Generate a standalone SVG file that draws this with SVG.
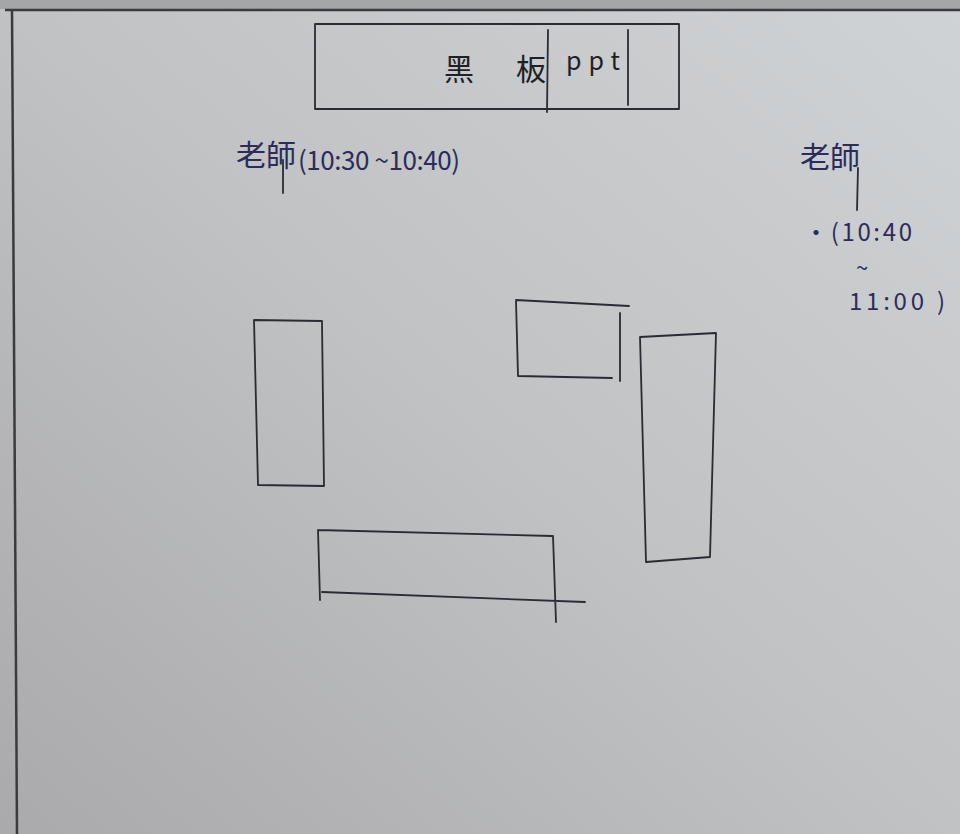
<svg xmlns="http://www.w3.org/2000/svg" width="960" height="834" viewBox="0 0 960 834">
<defs>
<linearGradient id="paper" x1="1" y1="0" x2="0" y2="1">
<stop offset="0" stop-color="#d0d3d5"/>
<stop offset="0.5" stop-color="#c0c2c4"/>
<stop offset="1" stop-color="#aaa9ab"/>
</linearGradient>
<style>
.ln{fill:none;stroke:#2b2b33;stroke-width:1.8;stroke-linecap:round;stroke-linejoin:round}
.frame{fill:none;stroke:#3a3b3f;stroke-width:2.5}
.t{font-family:"Noto Sans CJK TC","Noto Sans CJK SC",sans-serif;fill:#2c2c5a}
.b{font-family:"Noto Sans CJK TC","Noto Sans CJK SC",sans-serif;fill:#1f1f24}
</style>
</defs>
<rect x="0" y="0" width="960" height="834" fill="url(#paper)"/>
<rect x="0" y="0" width="960" height="9" fill="#a4a6a8"/>
<g id="frame">
<path class="frame" d="M5 10 L960 10"/>
<path class="frame" d="M12 10 L17 834"/>
</g>
<g id="blackboard">
<rect class="ln" x="315" y="24" width="364" height="85"/>
<path class="ln" d="M548 30 L547 112"/>
<path class="ln" d="M628 30 L628 105"/>
<text class="b" x="444" y="80" font-size="30">黑</text>
<text class="b" x="516" y="80" font-size="30">板</text>
<text class="b" x="566" y="70" font-size="25" textLength="54" lengthAdjust="spacing">ppt</text>
</g>
<g id="teacher-left">
<text class="t" x="236" y="166" font-size="30">老師</text>
<path class="ln" d="M283 160 L283 193" stroke="#2c2c5a"/>
<text class="t" x="298" y="170" font-size="26" textLength="162" lengthAdjust="spacing">(10:30 ~10:40)</text>
</g>
<g id="teacher-right">
<text class="t" x="800" y="168" font-size="30">老師</text>
<path class="ln" d="M858 168 L857 210" stroke="#2c2c5a"/>
<text class="t" x="804" y="241" font-size="24" textLength="108" lengthAdjust="spacing">·(10:40</text>
<text class="t" x="856" y="276" font-size="22">~</text>
<text class="t" x="849" y="310" font-size="24" textLength="96" lengthAdjust="spacing">11:00 )</text>
</g>
<g id="desk-left">
<path class="ln" d="M254 320 L322 321 L324 486 L258 485 Z"/>
</g>
<g id="desk-top">
<path class="ln" d="M516 300 L629 306 M516 301 L518 376 L612 378 M620 313 L620 381"/>
</g>
<g id="desk-right">
<path class="ln" d="M640 337 L716 333 L710 557 L646 562 Z"/>
</g>
<g id="desk-bottom">
<path class="ln" d="M318 530 L552 536 M318 530 L320 600 M322 592 L585 602 M553 536 L556 622"/>
</g>
</svg>
